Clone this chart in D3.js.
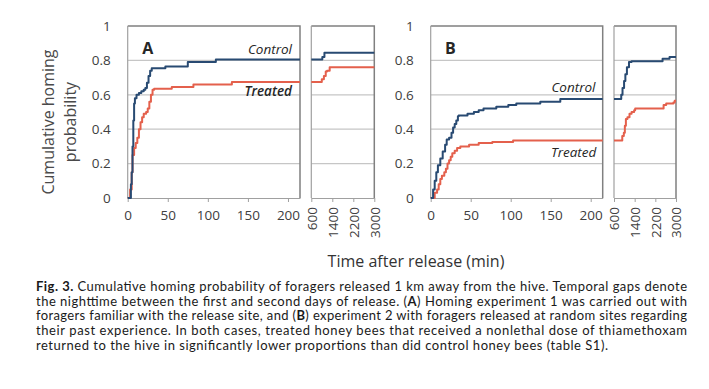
<!DOCTYPE html>
<html>
<head>
<meta charset="utf-8">
<script src="https://cdn.jsdelivr.net/npm/d3@7"></script>
<style>
  body { margin: 0; background: #fff; }
  text { font-family: "Open Sans", sans-serif; }
</style>
</head>
<body>
<svg id="chart" width="709" height="389"></svg>
<script>
// ticks
const yTicks = [0, 0.2, 0.4, 0.6, 0.8, 1];
const yTickLabels = ["0", "0.2", "0.4", "0.6", "0.8", "1"];
const earlyTicks = [0, 50, 100, 150, 200];
const lateTicks = [600, 1400, 2200, 3000];

// panel A, first 215 min  [time, probability]
const controlA = [[0,0],[2,0],[4,0.08],[5,0.15],[6,0.3],[7,0.45],[8,0.55],[9,0.58],[11,0.6],[14,0.61],[17,0.62],[20,0.63],[22,0.64],[24,0.67],[26,0.71],[28,0.74],[30,0.755],[45,0.755],[47,0.765],[72,0.765],[75,0.79],[108,0.79],[110,0.805],[215,0.805]];
const treatedA = [[0,0],[2,0],[3,0.05],[5,0.15],[6,0.25],[8,0.29],[10,0.32],[12,0.35],[14,0.4],[16,0.44],[18,0.47],[20,0.49],[23,0.5],[25,0.52],[27,0.56],[29,0.6],[31,0.63],[33,0.635],[53,0.635],[55,0.645],[80,0.645],[82,0.66],[128,0.66],[130,0.675],[215,0.675]];
// panel A, second day
const controlAlate = [[600,0.805],[1000,0.805],[1020,0.82],[1100,0.845],[3000,0.845]];
const treatedAlate = [[600,0.675],[930,0.675],[1000,0.69],[1080,0.71],[1150,0.735],[1200,0.74],[1300,0.76],[3000,0.76]];

// panel B, first 215 min
const controlB = [[0,0],[1,0],[3,0.05],[5,0.1],[7,0.15],[9,0.19],[12,0.23],[15,0.27],[18,0.31],[20,0.34],[23,0.35],[26,0.38],[28,0.41],[30,0.43],[32,0.45],[34,0.475],[35,0.48],[44,0.48],[46,0.49],[52,0.49],[54,0.5],[58,0.5],[60,0.51],[64,0.51],[66,0.52],[80,0.52],[82,0.53],[95,0.53],[97,0.54],[105,0.54],[107,0.55],[135,0.55],[137,0.56],[160,0.56],[162,0.575],[215,0.575]];
const treatedB = [[0,0],[2,0],[5,0.03],[8,0.05],[10,0.08],[12,0.11],[14,0.13],[17,0.15],[19,0.17],[21,0.2],[23,0.22],[25,0.24],[27,0.26],[30,0.275],[33,0.29],[37,0.3],[45,0.3],[48,0.31],[58,0.31],[60,0.32],[75,0.32],[77,0.325],[100,0.325],[103,0.335],[215,0.335]];
// panel B, second day
const controlBlate = [[600,0.575],[840,0.575],[880,0.6],[930,0.64],[990,0.68],[1040,0.72],[1100,0.76],[1180,0.79],[1280,0.795],[2450,0.795],[2480,0.81],[2700,0.81],[2750,0.82],[3000,0.82]];
const treatedBlate = [[600,0.335],[870,0.335],[920,0.36],[980,0.38],[1020,0.42],[1060,0.46],[1120,0.47],[1200,0.49],[1280,0.5],[1380,0.51],[1420,0.52],[2440,0.52],[2520,0.54],[2620,0.55],[2900,0.555],[2950,0.565],[3000,0.565]];

const blue = "#284a72", red = "#e4604c";
const gridCol = "#c6c6c6", frameCol = "#808080", textCol = "#404040";

const svg = d3.select("#chart");
const y = d3.scaleLinear().domain([0, 1]).range([198, 26]);

function drawSection(g, x, series, ticks, rotated, withY) {
  // gridlines
  g.selectAll(".grid").data(yTicks.slice(1, 5)).enter().append("line")
    .attr("x1", x.range()[0]).attr("x2", x.range()[1])
    .attr("y1", d => y(d)).attr("y2", d => y(d))
    .attr("stroke", gridCol).attr("stroke-width", 1.2);

  // frame: top and right
  g.append("path")
    .attr("d", `M${x.range()[0]},${y(1)}H${x.range()[1]}V${y(0)}`)
    .attr("fill", "none").attr("stroke", frameCol).attr("stroke-width", 1.5);
  // left axis line
  g.append("line")
    .attr("x1", x.range()[0]).attr("x2", x.range()[0])
    .attr("y1", y(0)).attr("y2", y(1))
    .attr("stroke", "#a0a0a0").attr("stroke-width", 1.2);

  // bottom axis
  const ax = g.append("g").attr("transform", `translate(0,${y(0)})`)
    .call(d3.axisBottom(x).tickValues(ticks).tickSize(4).tickSizeOuter(0)
      .tickPadding(8).tickFormat(d3.format("d")));
  ax.select(".domain").attr("stroke", "#a0a0a0").attr("stroke-width", 1.2);
  ax.selectAll(".tick line").attr("stroke", "#a0a0a0");
  ax.selectAll("text").attr("fill", textCol).style("font-size", "13.5px")
    .style("font-family", "'Open Sans', sans-serif");
  if (rotated) {
    ax.selectAll("text")
      .attr("transform", "rotate(-90)")
      .attr("x", -9).attr("y", 0).attr("dy", "0.36em")
      .attr("text-anchor", "end");
  }

  if (withY) {
    const ay = g.append("g").attr("transform", `translate(${x.range()[0] - 14},0)`)
      .call(d3.axisLeft(y).tickValues(yTicks).tickSize(0)
        .tickFormat((d, i) => yTickLabels[i]));
    ay.select(".domain").remove();
    ay.selectAll("text").attr("fill", textCol).style("font-size", "13.5px")
      .style("font-family", "'Open Sans', sans-serif");
  }

  const line = d3.line().x(d => x(d[0])).y(d => y(d[1])).curve(d3.curveStepAfter);
  series.forEach(s => {
    g.append("path").datum(s.data)
      .attr("d", line)
      .attr("fill", "none")
      .attr("stroke", s.color)
      .attr("stroke-width", 2)
      .attr("stroke-linejoin", "round");
  });
}

// panel A
const gA = svg.append("g");
const xA = d3.scaleLinear().domain([0, 215]).range([127.7, 300]);
const xAlate = d3.scaleLinear().domain([600, 3000]).range([311.3, 374.3]);
drawSection(gA, xA, [{data: treatedA, color: red}, {data: controlA, color: blue}], earlyTicks, false, true);
drawSection(gA, xAlate, [{data: treatedAlate, color: red}, {data: controlAlate, color: blue}], lateTicks, true, false);

// panel B
const gB = svg.append("g");
const xB = d3.scaleLinear().domain([0, 215]).range([430.7, 602.7]);
const xBlate = d3.scaleLinear().domain([600, 3000]).range([614, 676]);
drawSection(gB, xB, [{data: treatedB, color: red}, {data: controlB, color: blue}], earlyTicks, false, true);
drawSection(gB, xBlate, [{data: treatedBlate, color: red}, {data: controlBlate, color: blue}], lateTicks, true, false);

// panel letters and series labels
svg.append("text").attr("x", xA(18)).attr("y", 54).text("A")
  .attr("fill", "#262626").style("font-weight", "bold").style("font-size", "16px");
svg.append("text").attr("x", xB(18)).attr("y", 54).text("B")
  .attr("fill", "#262626").style("font-weight", "bold").style("font-size", "16px");

const seriesLabels = [
  {x: xA(205), y: 54, t: "Control", w: "normal"},
  {x: xA(205), y: 96, t: "Treated", w: "600"},
  {x: xB(206), y: 92, t: "Control", w: "normal"},
  {x: xB(207), y: 157, t: "Treated", w: "normal"}
];
svg.selectAll(".slab").data(seriesLabels).enter().append("text")
  .attr("x", d => d.x).attr("y", d => d.y)
  .attr("text-anchor", "end")
  .attr("fill", "#262626")
  .style("font-style", "italic").style("font-weight", d => d.w)
  .style("font-size", "13.5px")
  .text(d => d.t);

// y axis title
const yTitle = svg.append("text")
  .attr("transform", "translate(0,122) rotate(-90)")
  .attr("text-anchor", "middle").attr("fill", "#4a4a4a")
  .style("font-size", "16px");
yTitle.append("tspan").attr("x", 0).attr("y", 54).text("Cumulative homing");
yTitle.append("tspan").attr("x", 0).attr("y", 76).text("probability");

// x axis title
svg.append("text").attr("x", 416).attr("y", 267)
  .attr("text-anchor", "middle").attr("fill", "#333")
  .style("font-size", "16px")
  .text("Time after release (min)");

// caption
const caption = [
  [["Fig. 3.", true], [" Cumulative homing probability of foragers released 1 km away from the hive. Temporal gaps denote", false]],
  [["the nighttime between the first and second days of release. (", false], ["A", true], [") Homing experiment 1 was carried out with", false]],
  [["foragers familiar with the release site, and (", false], ["B", true], [") experiment 2 with foragers released at random sites regarding", false]],
  [["their past experience. In both cases, treated honey bees that received a nonlethal dose of thiamethoxam", false]],
  [["returned to the hive in significantly lower proportions than did control honey bees (table S1).", false]]
];
const captionWidths = [651, 651, 651, 651, 572];
caption.forEach((parts, i) => {
  const t = svg.append("text")
    .attr("x", 36).attr("y", 290.7 + i * 14.8)
    .attr("fill", "#1a1a1a")
    .attr("textLength", captionWidths[i])
    .attr("lengthAdjust", "spacing")
    .style("font-family", "Lato, sans-serif")
    .style("font-size", "13px");
  parts.forEach(p => {
    t.append("tspan").text(p[0]).style("font-weight", p[1] ? "bold" : "normal");
  });
});
</script>
</body>
</html>
